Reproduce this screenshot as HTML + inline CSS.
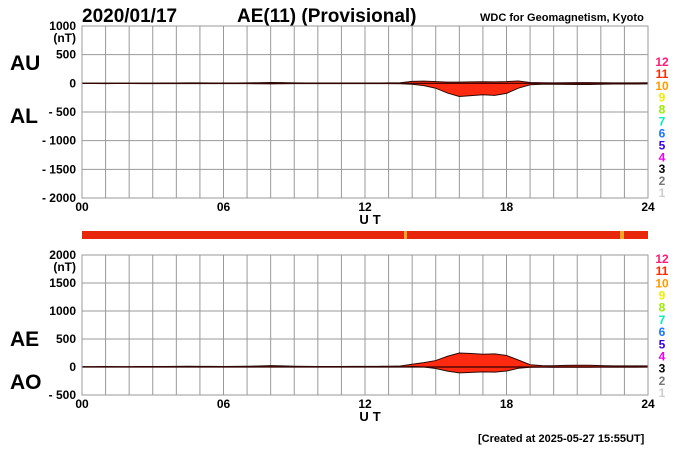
<!DOCTYPE html>
<html><head><meta charset="utf-8"><style>
body{margin:0;background:#fff;}
svg{display:block;font-family:"Liberation Sans",sans-serif;}
</style></head><body>
<svg id="c" width="700" height="450">
<text x="82" y="22" font-size="19" font-weight="bold">2020/01/17</text>
<text x="237" y="22" font-size="19" font-weight="bold">AE(11) (Provisional)</text>
<text x="480" y="21" font-size="11" font-weight="bold">WDC for Geomagnetism, Kyoto</text>
<text x="10" y="70" font-size="21" font-weight="bold">AU</text>
<text x="10" y="123" font-size="21" font-weight="bold">AL</text>
<text x="10" y="346" font-size="21" font-weight="bold">AE</text>
<text x="10" y="389" font-size="21" font-weight="bold">AO</text>
<rect x="82" y="231" width="566" height="8" fill="#e8260c"/>
<rect x="404" y="231" width="3" height="8" fill="#f5a623"/>
<rect x="620" y="231" width="4" height="8" fill="#f5a623"/>
<text x="478" y="442" font-size="11" font-weight="bold">[Created at 2025-05-27 15:55UT]</text>
</svg>
<script>
const hours=[0,0.5,1,1.5,2,2.5,3,3.5,4,4.5,5,5.5,6,6.5,7,7.5,8,8.5,9,9.5,10,10.5,11,11.5,12,12.5,13,13.5,14,14.5,15,15.5,16,16.5,17,17.5,18,18.5,19,19.5,20,20.5,21,21.5,22,22.5,23,23.5,24];
const auValues=[3,3,4,3,3,4,4,5,6,8,7,6,5,6,8,10,15,12,8,6,5,5,5,6,6,6,7,10,35,38,30,22,20,25,28,25,30,40,15,10,8,10,12,12,10,8,8,8,10];
const alValues=[-3,-3,-4,-3,-3,-4,-4,-5,-6,-6,-5,-5,-5,-6,-6,-8,-10,-8,-6,-5,-5,-5,-5,-6,-6,-6,-6,-8,-15,-40,-85,-170,-230,-215,-200,-210,-175,-85,-25,-15,-15,-18,-20,-20,-15,-12,-12,-12,-10];
const topTicks=[1000,500,0,-500,-1000,-1500,-2000];
const botTicks=[2000,1500,1000,500,0,-500];
const xTicks=["00","06","12","18","24"];
const legendNums=["12","11","10","9","8","7","6","5","4","3","2","1"];
const legendColors=["#ff1a75","#ff2a00","#ff9900","#eeee00","#99ee00","#00eebb","#1a75ff","#3300ee","#ee00ee","#000000","#777777","#cccccc"];
const aeValues=auValues.map((u,i)=>u-alValues[i]);
const aoValues=auValues.map((u,i)=>(u+alValues[i])/2);
const svg=document.getElementById('c');const NS='http://www.w3.org/2000/svg';
function mk(t,a){const e=document.createElementNS(NS,t);for(const k in a)e.setAttribute(k,a[k]);svg.appendChild(e);return e;}
const X0=82,X1=648;
function xs(h){return X0+(X1-X0)*h/24;}
function panel(top,vmax,vmin,bottom,ticks,upper,lower,nm,ly0,ly1){
  const ys=v=>top+(vmax-v)*(bottom-top)/(vmax-vmin);
  for(let h=0;h<=24;h++){const l=mk('line',{x1:xs(h),x2:xs(h),y1:top,y2:bottom,stroke:'#999','stroke-width':1});
    }
  ticks.forEach(v=>{const l=mk('line',{x1:X0,x2:X1,y1:ys(v),y2:ys(v),stroke:'#999','stroke-width':1});
    
    const t=mk('text',{x:76,y:ys(v)+4,'font-size':12,'font-weight':'bold','text-anchor':'end'});
    t.textContent=v<0?'- '+(-v):String(v);
    });
  const u=mk('text',{x:76,y:ys(ticks[0])+16,'font-size':12,'font-weight':'bold','text-anchor':'end'});u.textContent='(nT)';
  
  let pts=hours.map((h,i)=>xs(h)+','+ys(upper[i]));
  let pts2=hours.map((h,i)=>xs(h)+','+ys(lower[i])).reverse();
  const p=mk('polygon',{points:pts.concat(pts2).join(' '),fill:'#ff2a10',stroke:'#2a0a05','stroke-width':1});
  
  const z=mk('line',{x1:X0,x2:X1,y1:ys(0),y2:ys(0),stroke:'#300','stroke-width':1.2});
  
  const b=mk('rect',{x:X0,y:top,width:X1-X0,height:bottom-top,fill:'none',stroke:'#999'});
  
  xTicks.forEach((s,i)=>{const t=mk('text',{x:xs(i*6),y:bottom+13,'font-size':12,'font-weight':'bold','text-anchor':'middle'});t.textContent=s;
    });
  const ut=mk('text',{x:xs(12)+7,y:bottom+26,'font-size':13,'font-weight':'bold','text-anchor':'middle','letter-spacing':'4'});ut.textContent='UT';
  
  legendNums.forEach((s,i)=>{const t=mk('text',{x:662,y:ly0+(ly1-ly0)*i/11,'font-size':12,'font-weight':'bold','text-anchor':'middle',fill:legendColors[i]});t.textContent=s;
    });
}
panel(26,1000,-2000,198,topTicks,auValues,alValues,'au-al',66,197);
panel(255,2000,-500,395,botTicks,aeValues,aoValues,'ae-ao',263,397);
</script>
</body></html>
